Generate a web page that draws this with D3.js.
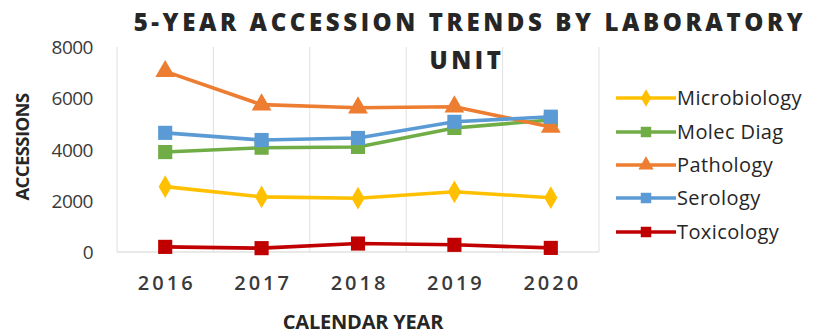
<!DOCTYPE html>
<html><head><meta charset="utf-8">
<script src="https://cdn.jsdelivr.net/npm/d3@7"></script>
<style>body{margin:0;background:#fff;} svg{display:block;}</style>
</head><body>
<svg id="c" width="816" height="335"></svg>
<script>
const years = ["2016","2017","2018","2019","2020"];
const seriesNames = ["Microbiology","Molec Diag","Pathology","Serology","Toxicology"];
const microbiology = [2550, 2150, 2100, 2350, 2120];
const molecDiag    = [3900, 4070, 4100, 4840, 5150];
const pathology    = [7050, 5750, 5630, 5670, 4880];
const serology     = [4650, 4370, 4450, 5080, 5280];
const toxicology   = [200, 150, 330, 280, 160];
const yTicks = [0, 2000, 4000, 6000, 8000];
const colors = ["#FFC000","#70AD47","#ED7D31","#5B9BD5","#C00000"];
const symbols = [d3.symbolDiamond, d3.symbolSquare, d3.symbolTriangle, d3.symbolSquare, d3.symbolSquare];
const allValues = [microbiology, molecDiag, pathology, serology, toxicology];

const svg = d3.select("#c");
const m = {left:117, right:599, top:47, bottom:252};
const x = d3.scaleBand().domain(years).range([m.left, m.right]);
const y = d3.scaleLinear().domain([0, 8000]).range([m.bottom, m.top]);

// vertical gridlines
const bounds = years.map(d => x(d)).concat([m.right]);
svg.append("g").selectAll("line").data(bounds).join("line")
  .attr("x1", d=>d).attr("x2", d=>d).attr("y1", m.top).attr("y2", m.bottom)
  .attr("stroke", "#e0e0e0").attr("stroke-width", 1);
svg.append("line").attr("x1", m.left).attr("x2", m.right).attr("y1", m.bottom).attr("y2", m.bottom)
  .attr("stroke", "#d4d4d4").attr("stroke-width", 1.2);

// y axis
const yAxis = d3.axisLeft(y).tickValues(yTicks).tickFormat(d3.format("d")).tickSize(0).tickPadding(0);
const gy = svg.append("g").attr("transform", `translate(${m.left-24},0)`).call(yAxis);
gy.select(".domain").remove();
gy.selectAll("text").attr("font-family","'Open Sans',sans-serif")
  .attr("font-size", 19).attr("letter-spacing","-0.5px").attr("fill","#3a3a3a").attr("dy","0.35em");

// x axis
const xAxis = d3.axisBottom(x).tickSize(0).tickPadding(0);
const gx = svg.append("g").attr("transform", `translate(0,${m.bottom+24})`).call(xAxis);
gx.select(".domain").remove();
gx.selectAll("text").attr("font-family","'Open Sans',sans-serif").attr("font-weight","600")
  .attr("font-size", 20).attr("letter-spacing","3px").attr("dx","1.5px").attr("fill","#3a3a3a");

// lines and markers
const line = d3.line().x((d,i)=>x(years[i]) + x.bandwidth()/2).y(d=>y(d));
seriesNames.forEach((name, k) => {
  const vals = allValues[k];
  svg.append("path").datum(vals).attr("d", line)
    .attr("fill","none").attr("stroke", colors[k]).attr("stroke-width", 3.6).attr("stroke-linejoin","round");
  const sz = symbols[k]===d3.symbolDiamond ? 150 : (symbols[k]===d3.symbolTriangle ? 170 : 200);
  svg.append("g").selectAll("path").data(vals).join("path")
    .attr("transform", (d,i)=>`translate(${x(years[i]) + x.bandwidth()/2},${y(d)})`)
    .attr("d", d3.symbol().type(symbols[k]).size(sz))
    .attr("fill", colors[k]);
});

// legend
const lg = svg.append("g");
const legY = [98, 132, 165, 198, 232];
seriesNames.forEach((name, k) => {
  const gy2 = legY[k];
  lg.append("line").attr("x1", 616).attr("x2", 676).attr("y1", gy2).attr("y2", gy2)
    .attr("stroke", colors[k]).attr("stroke-width", 3.5);
  const sz = symbols[k]===d3.symbolDiamond ? 90 : (symbols[k]===d3.symbolTriangle ? 100 : 110);
  lg.append("path").attr("transform", `translate(646,${gy2})`)
    .attr("d", d3.symbol().type(symbols[k]).size(sz)).attr("fill", colors[k]);
  lg.append("text").attr("x", 677).attr("y", gy2).attr("dy","0.35em")
    .attr("font-family","'Open Sans',sans-serif").attr("font-size", 20).attr("letter-spacing","0.4px")
    .attr("fill","#262626").text(name);
});

// titles
svg.append("text").attr("x", 470).attr("y", 31).attr("text-anchor","middle")
  .attr("font-family","'Open Sans',sans-serif").attr("font-weight","800").attr("font-size", 24)
  .attr("letter-spacing","3.6px").attr("fill","#262626").text("5-YEAR ACCESSION TRENDS BY LABORATORY");
svg.append("text").attr("x", 467).attr("y", 69).attr("text-anchor","middle")
  .attr("font-family","'Open Sans',sans-serif").attr("font-weight","800").attr("font-size", 24)
  .attr("letter-spacing","3.6px").attr("fill","#262626").text("UNIT");
svg.append("text").attr("x", 363).attr("y", 329).attr("text-anchor","middle")
  .attr("font-family","'Open Sans',sans-serif").attr("font-weight","bold").attr("font-size", 20)
  .attr("letter-spacing","-0.2px").attr("fill","#262626").text("CALENDAR YEAR");
svg.append("text").attr("transform","translate(29,147) rotate(-90)").attr("text-anchor","middle")
  .attr("font-family","'Open Sans',sans-serif").attr("font-weight","bold").attr("font-size", 18.5)
  .attr("letter-spacing","-0.6px").attr("fill","#262626").text("ACCESSIONS");
</script>
</body></html>
